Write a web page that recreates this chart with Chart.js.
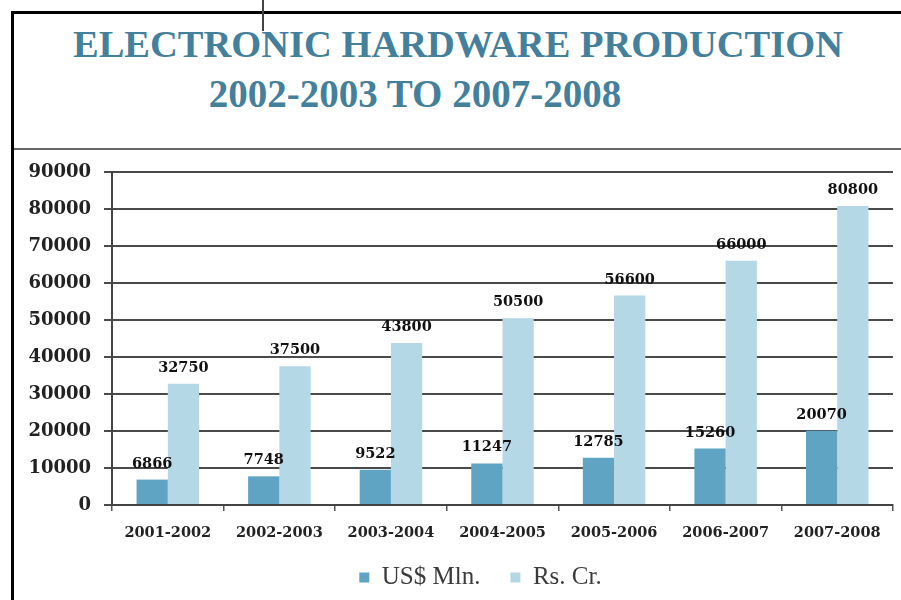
<!DOCTYPE html>
<html>
<head>
<meta charset="utf-8">
<script src="https://cdn.jsdelivr.net/npm/chart.js@4"></script>
<style>
  html, body { margin: 0; padding: 0; background: #fff; }
  #wrap { position: relative; width: 901px; height: 600px; overflow: hidden; }
  .rule { position: absolute; }
  .title { position: absolute; font-family: "Liberation Serif", "Times New Roman", serif; font-weight: bold;
           color: #44809b; white-space: nowrap; line-height: 1; }
  #chartBox { position: absolute; left: 0; top: 0; width: 901px; height: 600px; }
</style>
</head>
<body>
<div id="wrap">
  <div class="rule" style="left:11px; top:11px; width:890px; height:3px; background:#000;"></div>
  <div class="rule" style="left:11px; top:11px; width:3px; height:589px; background:#000;"></div>
  <div class="rule" style="left:262px; top:0; width:2px; height:31px; background:#444;"></div>
  <div class="rule" style="left:14px; top:148px; width:887px; height:2px; background:#666;"></div>
  <div class="title" id="t1" style="left:0; width:916px; text-align:center; top:25px; font-size:38.5px;">ELECTRONIC HARDWARE PRODUCTION</div>
  <div class="title" id="t2" style="left:0; width:830px; text-align:center; top:74px; font-size:39px;">2002-2003 TO 2007-2008</div>
  <div id="chartBox"><canvas id="c" width="901" height="600"></canvas></div>
</div>
<script>
const categories = ['2001-2002', '2002-2003', '2003-2004', '2004-2005', '2005-2006', '2006-2007', '2007-2008'];
const usdMln = [6866, 7748, 9522, 11247, 12785, 15260, 20070];
const rsCr = [32750, 37500, 43800, 50500, 56600, 66000, 80800];
const seriesNames = ['US$ Mln.', 'Rs. Cr.'];
const yMax = 90000;
const yStep = 10000;

const numFont = '"DejaVu Serif", serif';

// Writes each bar's value centred above it.
const valueLabels = {
  id: 'valueLabels',
  afterDatasetsDraw(chart) {
    const ctx = chart.ctx;
    ctx.save();
    ctx.font = 'bold 14.5px ' + numFont;
    ctx.fillStyle = '#111';
    ctx.textAlign = 'center';
    ctx.textBaseline = 'alphabetic';
    chart.data.datasets.forEach((ds, i) => {
      const meta = chart.getDatasetMeta(i);
      meta.data.forEach((bar, j) => {
        ctx.fillText(String(ds.data[j]), bar.x, bar.y - 12);
      });
    });
    ctx.restore();
  }
};

// Nudges the legend row right (under the plot) and up a little.
const legendPlacement = {
  id: 'legendPlacement',
  afterLayout(chart) {
    const lg = chart.legend;
    if (!lg) return;
    lg.left += 34;
    lg.right += 34;
    lg.top -= 12;
    lg.bottom -= 12;
  }
};

new Chart(document.getElementById('c'), {
  type: 'bar',
  data: {
    labels: categories,
    datasets: [
      { label: seriesNames[0], data: usdMln, backgroundColor: '#5fa4c2' },
      { label: seriesNames[1], data: rsCr, backgroundColor: '#b4d8e6' }
    ]
  },
  options: {
    responsive: false,
    animation: false,
    devicePixelRatio: 1,
    layout: { padding: { left: 0, right: 8, top: 172, bottom: -12 } },
    datasets: { bar: { categoryPercentage: 0.56, barPercentage: 1.0 } },
    plugins: {
      title: { display: false },
      tooltip: { enabled: false },
      legend: {
        position: 'bottom',
        labels: {
          font: { family: '"Liberation Serif", serif', size: 25 },
          color: '#3a3a3a',
          boxWidth: 10,
          boxHeight: 10,
          padding: 30
        }
      }
    },
    scales: {
      x: {
        grid: { display: true, drawOnChartArea: false, offset: true, tickLength: 6, color: '#555', lineWidth: 1.5 },
        border: { display: true, color: '#444', width: 2 },
        ticks: { font: { family: numFont, weight: 'bold', size: 14.5 }, color: '#222', padding: 14, maxRotation: 0 },
        afterFit(scale) { scale.height = 42; }
      },
      y: {
        min: 0,
        max: yMax,
        ticks: {
          stepSize: yStep,
          font: { family: numFont, weight: 'bold', size: 18 },
          color: '#222',
          padding: 13,
          callback: (v) => String(v)
        },
        grid: { color: '#4a4a4a', lineWidth: 2, tickLength: 8 },
        border: { display: true, color: '#444', width: 2 },
        afterFit(scale) { scale.width = 112; }
      }
    }
  },
  plugins: [valueLabels, legendPlacement]
});
</script>
</body>
</html>
